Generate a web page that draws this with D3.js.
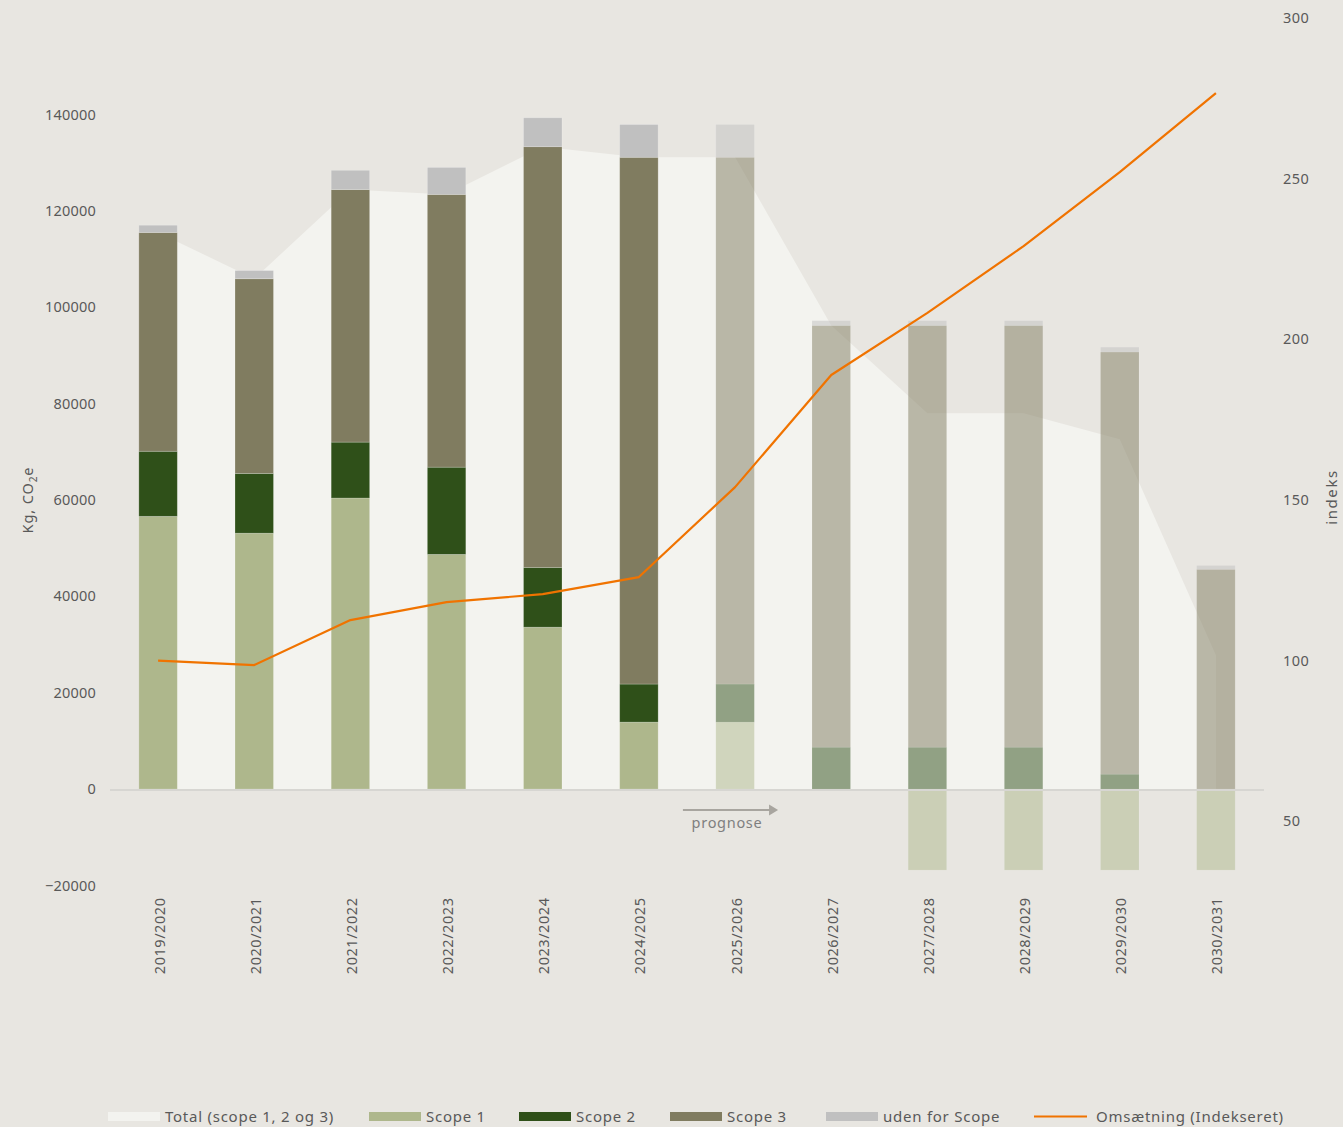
<!DOCTYPE html>
<html><head><meta charset="utf-8">
<script src="https://cdn.jsdelivr.net/npm/d3@7"></script>
<style>
html,body{margin:0;padding:0;background:#e8e6e1;}
svg{display:block;font-family:"Noto Sans",sans-serif;}
</style></head>
<body>
<svg id="chart" width="1343" height="1127"></svg>
<script>
const categories = ["2019/2020","2020/2021","2021/2022","2022/2023","2023/2024","2024/2025","2025/2026","2026/2027","2027/2028","2028/2029","2029/2030","2030/2031"];
const scope1 = [56600, 53100, 60400, 48700, 33600, 13900, 13900, 0, -16800, -16800, -16800, -16800];
const scope2 = [13500, 12400, 11600, 18100, 12400, 7900, 7900, 8700, 8700, 8700, 3100, 0];
const scope3 = [45400, 40400, 52400, 56600, 87300, 109300, 109300, 87500, 87500, 87500, 87600, 45600];
const udenForScope = [1500, 1700, 4000, 5600, 6000, 6800, 6800, 1000, 1000, 1000, 1000, 800];
const totalScope = [115500, 105900, 124400, 123400, 133300, 131100, 131100, 96200, 78000, 78000, 72600, 27800];
const omsaetning = [100, 98.6, 112.6, 118.2, 120.7, 126, 154, 188.9, 208.2, 229, 252, 276.6];
const leftTicks = [-20000, 0, 20000, 40000, 60000, 80000, 100000, 120000, 140000];
const rightTicks = [50, 100, 150, 200, 250, 300];
const forecastStart = 6;

const seriesNames = ["Total (scope 1, 2 og 3)", "Scope 1", "Scope 2", "Scope 3", "uden for Scope", "Omsætning (Indekseret)"];
const colors = {total:"#f3f3ef", s1:"#aeb78c", s2:"#2f5019", s3:"#807c60", uden:"#c0c0c0", line:"#f07300"};

const svg = d3.select("#chart");
const pTop = 18, pBottom = 885.5, pLeft = 110, pRight = 1264;

const x = d3.scaleBand().domain(categories).range([pLeft, pRight]).paddingInner(0.6).paddingOuter(0.3);
const y = d3.scaleLinear().domain([-20000, 160000]).range([pBottom, pTop]);
const y2 = d3.scaleLinear().domain([30, 300]).range([pBottom, pTop]);

const rows = categories.map((c, i) => ({cat:c, i, s1:scope1[i], s2:scope2[i], s3:scope3[i], uden:udenForScope[i]}));
const keys = ["s1","s2","s3","uden"];
const stack = d3.stack().keys(keys).offset(d3.stackOffsetDiverging);
const stacked = stack(rows);

const cx = c => x(c) + x.bandwidth()/2;
const area = d3.area().x((d,i) => cx(categories[i])).y0(y(0)).y1(d => y(d));
svg.append("path").datum(totalScope).attr("d", area).attr("fill", colors.total);

stacked.forEach(layer => {
  svg.append("g").selectAll("rect").data(layer).join("rect")
    .attr("x", d => x(d.data.cat))
    .attr("width", x.bandwidth())
    .attr("y", d => y(Math.max(d[0], d[1])))
    .attr("height", d => Math.abs(y(d[0]) - y(d[1])))
    .attr("fill", colors[layer.key])
    .attr("fill-opacity", d => d.data.i >= forecastStart ? 0.5 : 1)
    .attr("stroke", "#ffffff")
    .attr("stroke-opacity", d => d.data.i >= forecastStart ? 0.12 : 0.25)
    .attr("stroke-width", 0.8);
});

svg.append("line").attr("x1", pLeft).attr("x2", pRight).attr("y1", y(0)+1).attr("y2", y(0)+1)
  .attr("stroke", "#d7d6d2").attr("stroke-width", 2);

const la = svg.append("g").attr("transform", `translate(${pLeft},0)`)
  .call(d3.axisLeft(y).tickValues(leftTicks).tickSize(0).tickPadding(14).tickFormat(d3.format("d")));
la.select(".domain").remove();
la.selectAll("text").attr("font-size", 14.5).attr("fill", "#595959").attr("font-family", "Noto Sans").attr("letter-spacing", 0.2);

const ra = svg.append("g").attr("transform", `translate(${pRight},0)`)
  .call(d3.axisRight(y2).tickValues(rightTicks).tickSize(0).tickPadding(19));
ra.select(".domain").remove();
ra.selectAll("text").attr("font-size", 14.5).attr("fill", "#595959").attr("font-family", "Noto Sans").attr("letter-spacing", 0.4);

const xa = svg.append("g").attr("transform", `translate(0,${pBottom})`)
  .call(d3.axisBottom(x).tickSize(0).tickPadding(0));
xa.select(".domain").remove();
xa.selectAll("text")
  .attr("font-size", 14.5).attr("fill", "#595959").attr("font-family", "Noto Sans")
  .attr("letter-spacing", 0.55)
  .attr("transform", "rotate(-90)").attr("text-anchor", "end")
  .attr("x", -12).attr("y", 1.5).attr("dy", "0.35em");

const line = d3.line().x((d,i) => cx(categories[i])).y(d => y2(d));
svg.append("path").datum(omsaetning).attr("d", line).attr("fill", "none")
  .attr("stroke", colors.line).attr("stroke-width", 2.2).attr("stroke-linejoin", "round");

const yt = svg.append("text").attr("transform", `translate(33,500) rotate(-90)`)
  .attr("text-anchor", "middle").attr("font-size", 14.5).attr("fill", "#595959").attr("letter-spacing", 0.9);
yt.append("tspan").text("Kg, CO");
yt.append("tspan").text("2").attr("font-size", 10).attr("dy", 4);
yt.append("tspan").text("e").attr("dy", -4);
svg.append("text").attr("transform", `translate(1337,497) rotate(-90)`)
  .attr("text-anchor", "middle").attr("font-size", 15).attr("fill", "#595959").attr("letter-spacing", 1.6).text("indeks");

const ax1 = cx(categories[5]) + 44, ax2 = cx(categories[6]) + 43;
svg.append("line").attr("x1", ax1).attr("x2", ax2 - 7).attr("y1", 810).attr("y2", 810)
  .attr("stroke", "#a8a59f").attr("stroke-width", 2);
svg.append("path").attr("d", `M${ax2-9},804.5 L${ax2},810 L${ax2-9},815.5 Z`).attr("fill", "#a8a59f");
svg.append("text").attr("x", 727).attr("y", 828).attr("text-anchor", "middle")
  .attr("font-size", 14.5).attr("fill", "#7f7f7f").attr("letter-spacing", 0.7).text("prognose");

const legendX = [108, 369, 519, 670, 826, 1034];
const legendColors = [colors.total, colors.s1, colors.s2, colors.s3, colors.uden, colors.line];
const lg = svg.append("g");
seriesNames.forEach((name, i) => {
  if (i < 5) {
    lg.append("rect").attr("x", legendX[i]).attr("y", 1112).attr("width", 52).attr("height", 9).attr("fill", legendColors[i]);
    lg.append("text").attr("x", legendX[i] + 57).attr("y", 1116.5).attr("dy", "0.35em")
      .attr("font-size", 15).attr("fill", "#595959").attr("letter-spacing", 0.75).text(name);
  } else {
    lg.append("line").attr("x1", legendX[i]).attr("x2", legendX[i] + 53).attr("y1", 1116.5).attr("y2", 1116.5)
      .attr("stroke", legendColors[i]).attr("stroke-width", 2.2);
    lg.append("text").attr("x", legendX[i] + 62).attr("y", 1116.5).attr("dy", "0.35em")
      .attr("font-size", 15).attr("fill", "#595959").attr("letter-spacing", 0.75).text(name);
  }
});
</script>
</body></html>
